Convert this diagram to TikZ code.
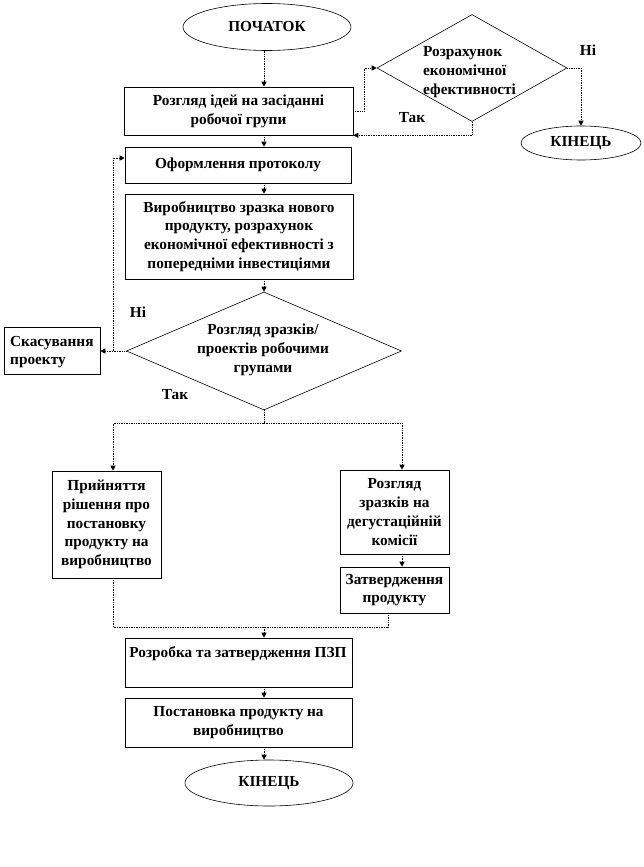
\documentclass[tikz,border=0pt]{standalone}
\usepackage{fontspec}
\setmainfont{Liberation Serif}
\usetikzlibrary{shapes.geometric,arrows.meta,calc}
\tikzset{
  txt/.style={font=\fontsize{15.3}{18.8}\selectfont\bfseries, inner sep=0pt, align=center},
  boxnode/.style={draw, rectangle, line width=0.6pt, inner sep=0pt, txt},
  ovalnode/.style={draw, ellipse, line width=0.6pt, inner sep=0pt, txt},
  rhomb/.style={draw, diamond, line width=0.6pt, inner sep=0pt},
  conn/.style={densely dotted, line width=0.7pt, -{Triangle[length=5pt,width=5pt]}},
  plain/.style={densely dotted, line width=0.7pt},
}
\begin{document}
\begin{tikzpicture}[x=1pt,y=-1pt]
\useasboundingbox (0,0) rectangle (644,867);
\coordinate (axis) at (264,0);
\coordinate (lx) at (113,0);
\coordinate (rx) at (402,0);
\coordinate (ax) at (388,0);

\node[ovalnode, minimum width=168pt, minimum height=47pt] (start) at (267,27) {ПОЧАТОК};
\node[boxnode, minimum width=229pt, minimum height=48pt] (box1) at (238.5,111) {Розгляд ідей на засіданні\\робочої групи};
\node[rhomb, minimum width=190pt, minimum height=107pt] (d1) at (472,68) {};
\node[txt, align=left, anchor=west] (d1t) at (423,72) {Розрахунок\\економічної\\ефективності};
\node[ovalnode, minimum width=120pt, minimum height=34pt] (end1) at (581,143) {КІНЕЦЬ};
\node[boxnode, minimum width=226pt, minimum height=36pt] (box2) at (238,165) {Оформлення протоколу};
\node[boxnode, minimum width=228pt, minimum height=85pt] (box3) at (239,236.5) {Виробництво зразка нового\\продукту, розрахунок\\економічної ефективності з\\попередніми інвестиціями};
\node[rhomb, minimum width=275pt, minimum height=118pt] (d2) at (264,351) {};
\node[txt] (d2t) at (263,350) {Розгляд зразків/\\проектів робочими\\групами};
\node[draw, rectangle, line width=0.6pt, minimum width=96pt, minimum height=47pt] (cancel) at (52,351) {};
\node[txt, align=left, anchor=west] (cancelt) at (10,352) {Скасування\\проекту};
\node[boxnode, minimum width=109pt, minimum height=107pt] (left) at (106.5,524.5) {Прийняття\\рішення про\\постановку\\продукту на\\виробництво};
\node[boxnode, minimum width=109pt, minimum height=84pt] (right) at (394.5,512) {Розгляд\\зразків на\\дегустаційній\\комісії};
\node[boxnode, minimum width=109pt, minimum height=46pt] (appr) at (394.5,590) {Затвердження\\продукту};
\node[draw, rectangle, line width=0.6pt, minimum width=227pt, minimum height=49pt] (pzp) at (238.5,662.5) {};
\node[txt] (pzpt) at (238,654) {Розробка та затвердження ПЗП};
\node[boxnode, minimum width=227pt, minimum height=49pt] (post) at (238.5,722.5) {Постановка продукту на\\виробництво};
\node[ovalnode, minimum width=168pt, minimum height=46pt] (end2) at (269,783) {КІНЕЦЬ};

\node[txt] (l1) at (412,118) {Так};
\node[txt] (l2) at (588,50) {Ні};
\node[txt] (l3) at (138,312) {Ні};
\node[txt] (l4) at (175,395) {Так};

\draw[conn] (axis |- start.south) -- (axis |- box1.north);
\draw[conn] (box1.east) -- ++(11,0) |- (d1.west);
\draw[conn] (d1.south) |- (box1.south east);
\draw[conn] (d1.east) -| (end1.north);
\draw[conn] (axis |- box1.south) -- (axis |- box2.north);
\draw[conn] (axis |- box2.south) -- (axis |- box3.north);
\draw[conn] (axis |- box3.south) -- (d2.north);
\draw[conn] (d2.west) -- (cancel.east);
\draw[conn] (lx |- d2.west) |- ($(box2.west)+(0,-7)$);
\draw[plain] (d2.south) -- ++(0,13) coordinate (split);
\draw[conn] (split) -| (lx |- left.north);
\draw[conn] (split) -| (rx |- right.north);
\draw[conn] (rx |- right.south) -- (rx |- appr.north);
\coordinate (merge) at (axis |- 0,627);
\draw[plain] (lx |- left.south) |- (merge);
\draw[plain] (ax |- appr.south) |- (merge);
\draw[conn] (merge) -- (axis |- pzp.north);
\draw[conn] (axis |- pzp.south) -- (axis |- post.north);
\draw[conn] (axis |- post.south) -- (axis |- end2.north);
\end{tikzpicture}
\end{document}
